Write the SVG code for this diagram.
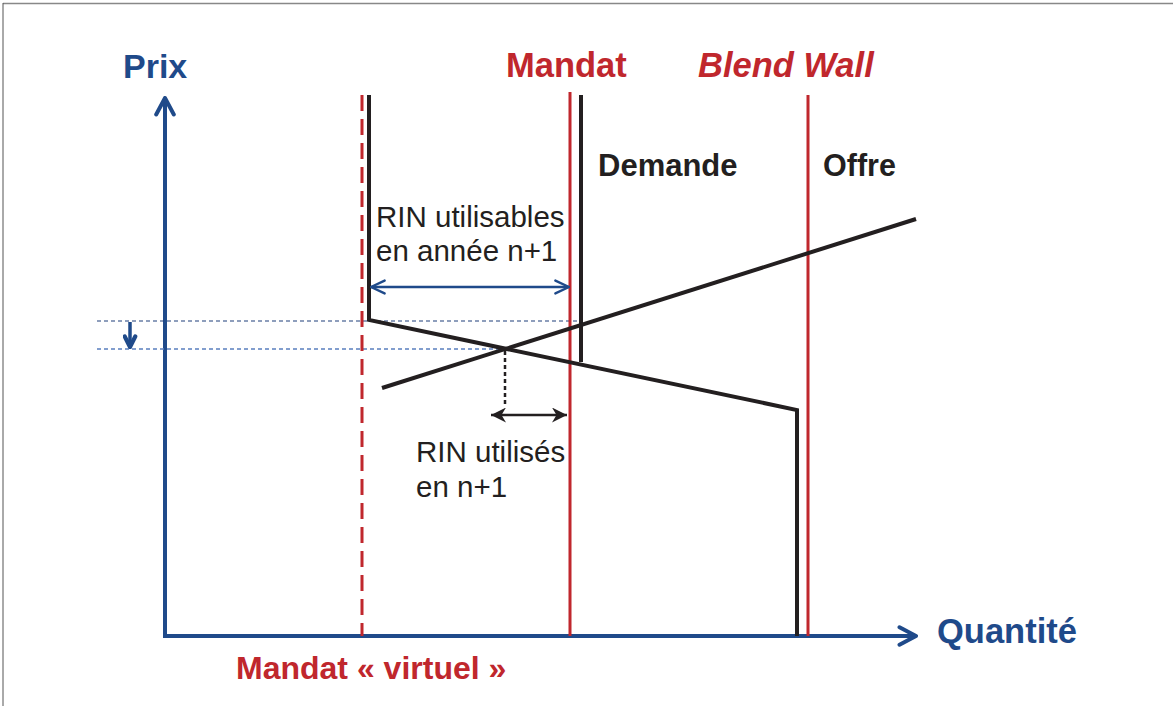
<svg xmlns="http://www.w3.org/2000/svg" width="1173" height="706" viewBox="0 0 1173 706">
<style>
.blue{fill:#1f4a8a}
.red{fill:#c0272d}
.blk{fill:#231f20}
.b{font-family:"Liberation Sans",Arial,sans-serif;font-weight:bold}
.r{font-family:"Liberation Sans",Arial,sans-serif}
.ax{stroke:#1f4a8a;stroke-width:4;fill:none}
.rl{stroke:#c0272d;stroke-width:3;fill:none}
.bk{stroke:#231f20;stroke-width:4;fill:none;stroke-linejoin:miter}
</style>
<defs>
<marker id="chev" viewBox="0 0 10 10" refX="9" refY="5" markerWidth="22" markerHeight="22" orient="auto-start-reverse" markerUnits="userSpaceOnUse">
<path d="M1.5,1 L9,5 L1.5,9" fill="none" stroke="#1f4a8a" stroke-width="1.8" stroke-linecap="round" stroke-linejoin="round"/>
</marker>
<marker id="schev" viewBox="0 0 10 10" refX="9" refY="5" markerWidth="15" markerHeight="15" orient="auto-start-reverse" markerUnits="userSpaceOnUse">
<path d="M2,1.5 L9,5 L2,8.5" fill="none" stroke="#1f4a8a" stroke-width="2.8" stroke-linecap="round" stroke-linejoin="round"/>
</marker>
<marker id="bchev" viewBox="0 0 10 10" refX="9.5" refY="5" markerWidth="16" markerHeight="16" orient="auto-start-reverse" markerUnits="userSpaceOnUse">
<path d="M1,1 L9.5,5 L1,9" fill="none" stroke="#1f4a8a" stroke-width="1.5" stroke-linecap="round"/>
</marker>
<marker id="karr" viewBox="0 0 10 10" refX="10" refY="5" markerWidth="15" markerHeight="15" orient="auto-start-reverse" markerUnits="userSpaceOnUse">
<path d="M0,0 L10,5 L0,10 L3,5 Z" fill="#231f20"/>
</marker>
</defs>
<rect x="0" y="0" width="1173" height="706" fill="#fff"/>
<line x1="3" y1="3.5" x2="1173" y2="3.5" stroke="#888" stroke-width="1.5"/>
<line x1="3" y1="3" x2="3" y2="706" stroke="#555" stroke-width="1"/>

<g id="connectors">
<g id="axes">
<line class="ax" x1="165" y1="636" x2="165" y2="98" marker-end="url(#chev)"/>
<line class="ax" x1="163" y1="636" x2="916" y2="636" marker-end="url(#chev)"/>
</g>
<line x1="97" y1="321" x2="580" y2="321" stroke="#1f3f7a" stroke-width="1.2" stroke-dasharray="4,3"/>
<line x1="97" y1="349" x2="503" y2="349" stroke="#5a7fbf" stroke-width="1.4" stroke-dasharray="4,3"/>
<line x1="130" y1="322" x2="130" y2="347" stroke="#1f4a8a" stroke-width="3.5" marker-end="url(#schev)"/>
<line class="rl" x1="362" y1="95" x2="362" y2="636" stroke-dasharray="16,8"/>
<line class="rl" x1="570" y1="92" x2="570" y2="636"/>
<line class="rl" x1="808" y1="95" x2="808" y2="636"/>
<polyline class="bk" points="369,95 369,320 797,410 797,636"/>
<line class="bk" x1="581" y1="95" x2="581" y2="362"/>
<line class="bk" x1="382" y1="388" x2="916" y2="219"/>
<line x1="371" y1="287" x2="569" y2="287" stroke="#1f4a8a" stroke-width="2.5" marker-start="url(#bchev)" marker-end="url(#bchev)"/>
<line x1="505" y1="351" x2="505" y2="405" stroke="#231f20" stroke-width="2.5" stroke-dasharray="4,3"/>
<line x1="491" y1="415" x2="567" y2="415" stroke="#231f20" stroke-width="2.5" marker-start="url(#karr)" marker-end="url(#karr)"/>
</g>

<g id="label-prix"><text class="b blue" x="123" y="78" font-size="34">Prix</text></g>
<g id="label-mandat"><text class="b red" x="506" y="77" font-size="34.5">Mandat</text></g>
<g id="label-blendwall"><text class="b red" x="698" y="77" font-size="34.5" font-style="italic">Blend Wall</text></g>
<g id="label-demande"><text class="b blk" x="598" y="176" font-size="31">Demande</text></g>
<g id="label-offre"><text class="b blk" x="823" y="176" font-size="30.5">Offre</text></g>
<g id="label-rin1">
<text class="r blk" x="376" y="227" font-size="29.5">RIN utilisables</text>
<text class="r blk" x="376" y="261" font-size="29.5">en année n+1</text>
</g>
<g id="label-rin2">
<text class="r blk" x="416" y="462" font-size="29.5">RIN utilisés</text>
<text class="r blk" x="416" y="497" font-size="29.5">en n+1</text>
</g>
<g id="label-quantite"><text class="b blue" x="937" y="643" font-size="34.5">Quantité</text></g>
<g id="label-virtuel"><text class="b red" x="236" y="679" font-size="32">Mandat « virtuel »</text></g>
</svg>
